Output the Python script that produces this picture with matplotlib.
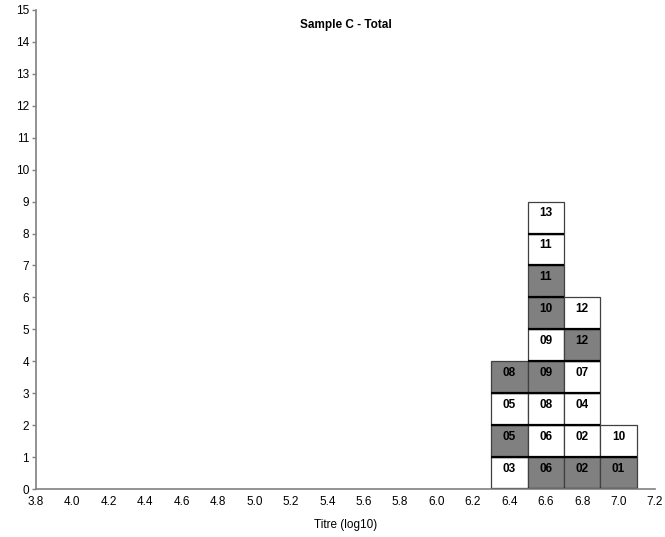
import matplotlib.pyplot as plt
import matplotlib.patches as patches

plt.rcParams['font.family'] = ['Liberation Sans', 'DejaVu Sans']

# boxes stacked from the bottom in each titre column
titres = [6.4, 6.6, 6.8, 7.0]
labels = [
    ["03", "05", "05", "08"],
    ["06", "06", "08", "09", "09", "10", "11", "11", "13"],
    ["02", "02", "04", "07", "12", "12"],
    ["01", "10"],
]
# 1 = grey box, 0 = white box
shaded = [
    [0, 1, 0, 1],
    [1, 0, 0, 1, 0, 1, 1, 0, 0],
    [1, 0, 0, 0, 1, 0],
    [1, 0],
]
xticks = [3.8, 4.0, 4.2, 4.4, 4.6, 4.8, 5.0, 5.2, 5.4, 5.6, 5.8, 6.0, 6.2, 6.4, 6.6, 6.8, 7.0, 7.2]

fig = plt.figure(figsize=(6.65, 5.37), dpi=100)
ax = fig.add_axes([36/665, 1 - 489/537, (655 - 36)/665, (489 - 10)/537])

w = 0.2
for x, labs, sh in zip(titres, labels, shaded):
    for k, (lab, s) in enumerate(zip(labs, sh)):
        fc = '#808080' if s else 'white'
        ax.add_patch(patches.Rectangle((x - w/2, k), w, 1, facecolor=fc,
                                       edgecolor='#404040', linewidth=0.9))
        # black divider under each box
        ax.plot([x - w/2, x + w/2], [k, k], color='black', linewidth=1.6,
                solid_capstyle='butt')
        ax.text(x, k + 0.64, lab, ha='center', va='center', fontsize=8.5,
                fontweight='bold')

ax.set_xlim(3.8, 7.2)
ax.set_ylim(0, 15)
ax.set_xticks(xticks)
ax.set_xticklabels(["%.1f" % t for t in xticks])
ax.set_yticks(range(16))
ax.tick_params(axis='x', length=0, labelsize=8.5, pad=5)
ax.tick_params(axis='y', length=3, width=1, color='#808080', labelsize=8.5, pad=2)
for side in ['top', 'right']:
    ax.spines[side].set_visible(False)
for side in ['left', 'bottom']:
    ax.spines[side].set_color('#808080')
    ax.spines[side].set_linewidth(1.2)
    ax.spines[side].set_zorder(3)

ax.set_xlabel("Titre (log10)", fontsize=8.5, labelpad=8)
ax.text(0.5, 0.968, "Sample C - Total", transform=ax.transAxes, ha='center',
        va='center', fontsize=8.5, fontweight='bold')

fig.savefig("out.png", dpi=100)
